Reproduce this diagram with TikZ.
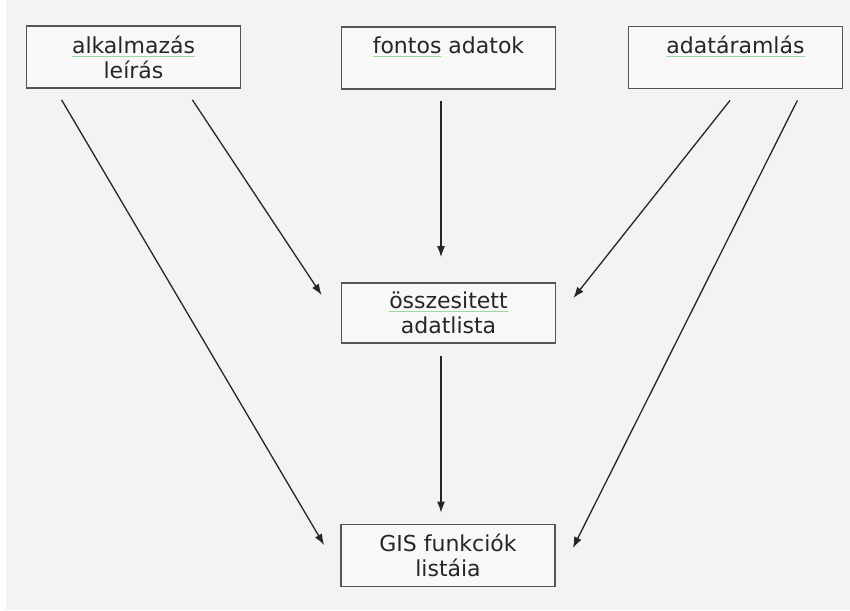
\documentclass[tikz,border=0pt]{standalone}
\usepackage{fontspec}
\setmainfont{DejaVu Sans}
\usepackage{tikz}
\usetikzlibrary{calc,positioning,arrows.meta}
\definecolor{bggray}{HTML}{F3F3F3}
\definecolor{boxfill}{HTML}{F8F8F8}
\definecolor{boxline}{HTML}{555555}
\definecolor{textgray}{HTML}{262626}
\definecolor{spellgreen}{HTML}{9ED89E}
\tikzstyle{box}   = [rectangle, draw=boxline, line width=1.8pt, fill=boxfill,
                     minimum width=214pt, minimum height=62pt, align=center,
                     text=textgray, inner sep=0pt,
                     font=\fontsize{22}{25}\selectfont]
\tikzstyle{arrow} = [draw=textgray, line width=1.3pt,
                     -{Latex[length=11pt,width=8pt]}]
\newlength{\spellwd}
\newcommand{\spell}[1]{\settowidth{\spellwd}{#1}%
  \leavevmode\rlap{\textcolor{spellgreen}{\rule[-3.5pt]{\spellwd}{1pt}}}#1}

\begin{document}
\begin{tikzpicture}[x=1pt, y=1pt]
		\useasboundingbox (0,0) rectangle (850,610);
		\fill[white] (0,0) rectangle (850,610);
		\fill[bggray] (6,0) rectangle (850,610);

		\node[box] (alk) at (133.5,553) {\spell{alkalmazás}\\leírás};
		\node[box] (fontos) at (448.5,552) {\spell{fontos} adatok\\~};
		\node[box] (adat) at (735.5,552.5) {\spell{adatáramlás}\\~};
		\node[box, minimum height=60pt] (ossz) at (448.5,297) {\spell{összesitett}\\adatlista};
		\node[box] (gis) at (448,54.5) {GIS funkciók\\listáia};

		\draw[arrow] ([shift={(36,-11)}]alk.south west) -- ([shift={(-16,10.5)}]gis.west);
		\draw[arrow] ([shift={(-49,-11)}]alk.south east) -- ([shift={(-19,18)}]ossz.west);
		\draw[arrow] ([shift={(-7.5,-11)}]fontos.south) -- ([shift={(-7.5,25)}]ossz.north);
		\draw[arrow] ([shift={(-5.5,-11)}]adat.south) -- ([shift={(17,15)}]ossz.east);
		\draw[arrow] ([shift={(-46,-11)}]adat.south east) -- ([shift={(17,7.5)}]gis.east);
		\draw[arrow] ([shift={(-7.5,-12)}]ossz.south) -- ([shift={(-7,11)}]gis.north);
	\end{tikzpicture}
\end{document}
